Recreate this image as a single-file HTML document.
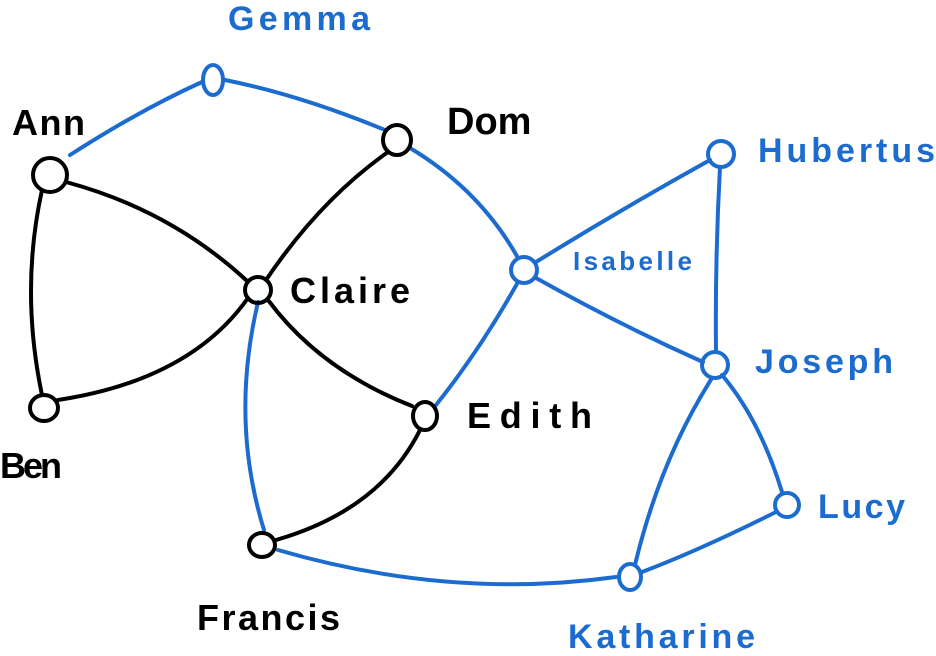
<!DOCTYPE html>
<html><head><meta charset="utf-8"><style>
html,body{margin:0;padding:0;background:#fff;}
svg{display:block;}
text{font-family:"Liberation Sans",sans-serif;}
</style></head><body>
<svg width="936" height="656" viewBox="0 0 936 656" xmlns="http://www.w3.org/2000/svg">
<g fill="none" stroke-width="4" stroke-linecap="round">
<g stroke="#000">
<path d="M42,190 Q20,290 42,395"/>
<path d="M66,182 Q170,210 246,280"/>
<path d="M58,400 Q190,380 248,298"/>
<path d="M266,280 Q320,200 388,152"/>
<path d="M268,300 Q320,370 412,406"/>
<path d="M420,430 Q380,510 276,540"/>
</g>
<g stroke="#1c6ccf">
<path d="M70,155 Q140,110 202,82"/>
<path d="M225,80 Q300,95 385,130"/>
<path d="M410,148 Q480,190 518,258"/>
<path d="M518,282 Q480,350 436,405"/>
<path d="M536,262 Q620,210 710,160"/>
<path d="M536,278 Q620,325 703,362"/>
<path d="M720,167 Q715,260 716,350"/>
<path d="M258,302 Q230,420 264,530"/>
<path d="M278,550 Q450,600 616,577"/>
<path d="M635,565 Q660,460 712,378"/>
<path d="M722,375 Q760,420 782,492"/>
<path d="M776,512 Q700,550 642,572"/>
</g>
<g stroke="#000">
<ellipse cx="50" cy="175" rx="17" ry="17"/>
<ellipse cx="44" cy="408" rx="14" ry="13"/>
<ellipse cx="258" cy="290" rx="13" ry="13"/>
<ellipse cx="397" cy="140" rx="14" ry="15"/>
<ellipse cx="425" cy="416" rx="12" ry="14"/>
<ellipse cx="262" cy="545" rx="13" ry="12"/>
</g>
<g stroke="#1c6ccf">
<ellipse cx="213" cy="80" rx="10" ry="15"/>
<ellipse cx="524" cy="270" rx="13" ry="13"/>
<ellipse cx="721" cy="154" rx="13" ry="13"/>
<ellipse cx="715" cy="365" rx="13" ry="13"/>
<ellipse cx="787" cy="505" rx="12" ry="12"/>
<ellipse cx="630" cy="577" rx="11" ry="13"/>
</g>
</g>
<g font-size="36" fill="#000" font-weight="bold">
<text x="12" y="135" textLength="73">Ann</text>
<text x="0" y="478" textLength="62">Ben</text>
<text x="290" y="303" textLength="120">Claire</text>
<text x="447" y="134" font-size="38">Dom</text>
<text x="467" y="428" textLength="125">Edith</text>
<text x="197" y="630" textLength="143">Francis</text>
</g>
<g font-size="34" fill="#1c6ccf" font-weight="bold">
<text x="228" y="30" textLength="142">Gemma</text>
<text x="573" y="270" font-size="26" textLength="119">Isabelle</text>
<text x="758" y="162" textLength="177">Hubertus</text>
<text x="755" y="373" textLength="138">Joseph</text>
<text x="818" y="518" textLength="87">Lucy</text>
<text x="568" y="648" textLength="187">Katharine</text>
</g>
</svg>
</body></html>
